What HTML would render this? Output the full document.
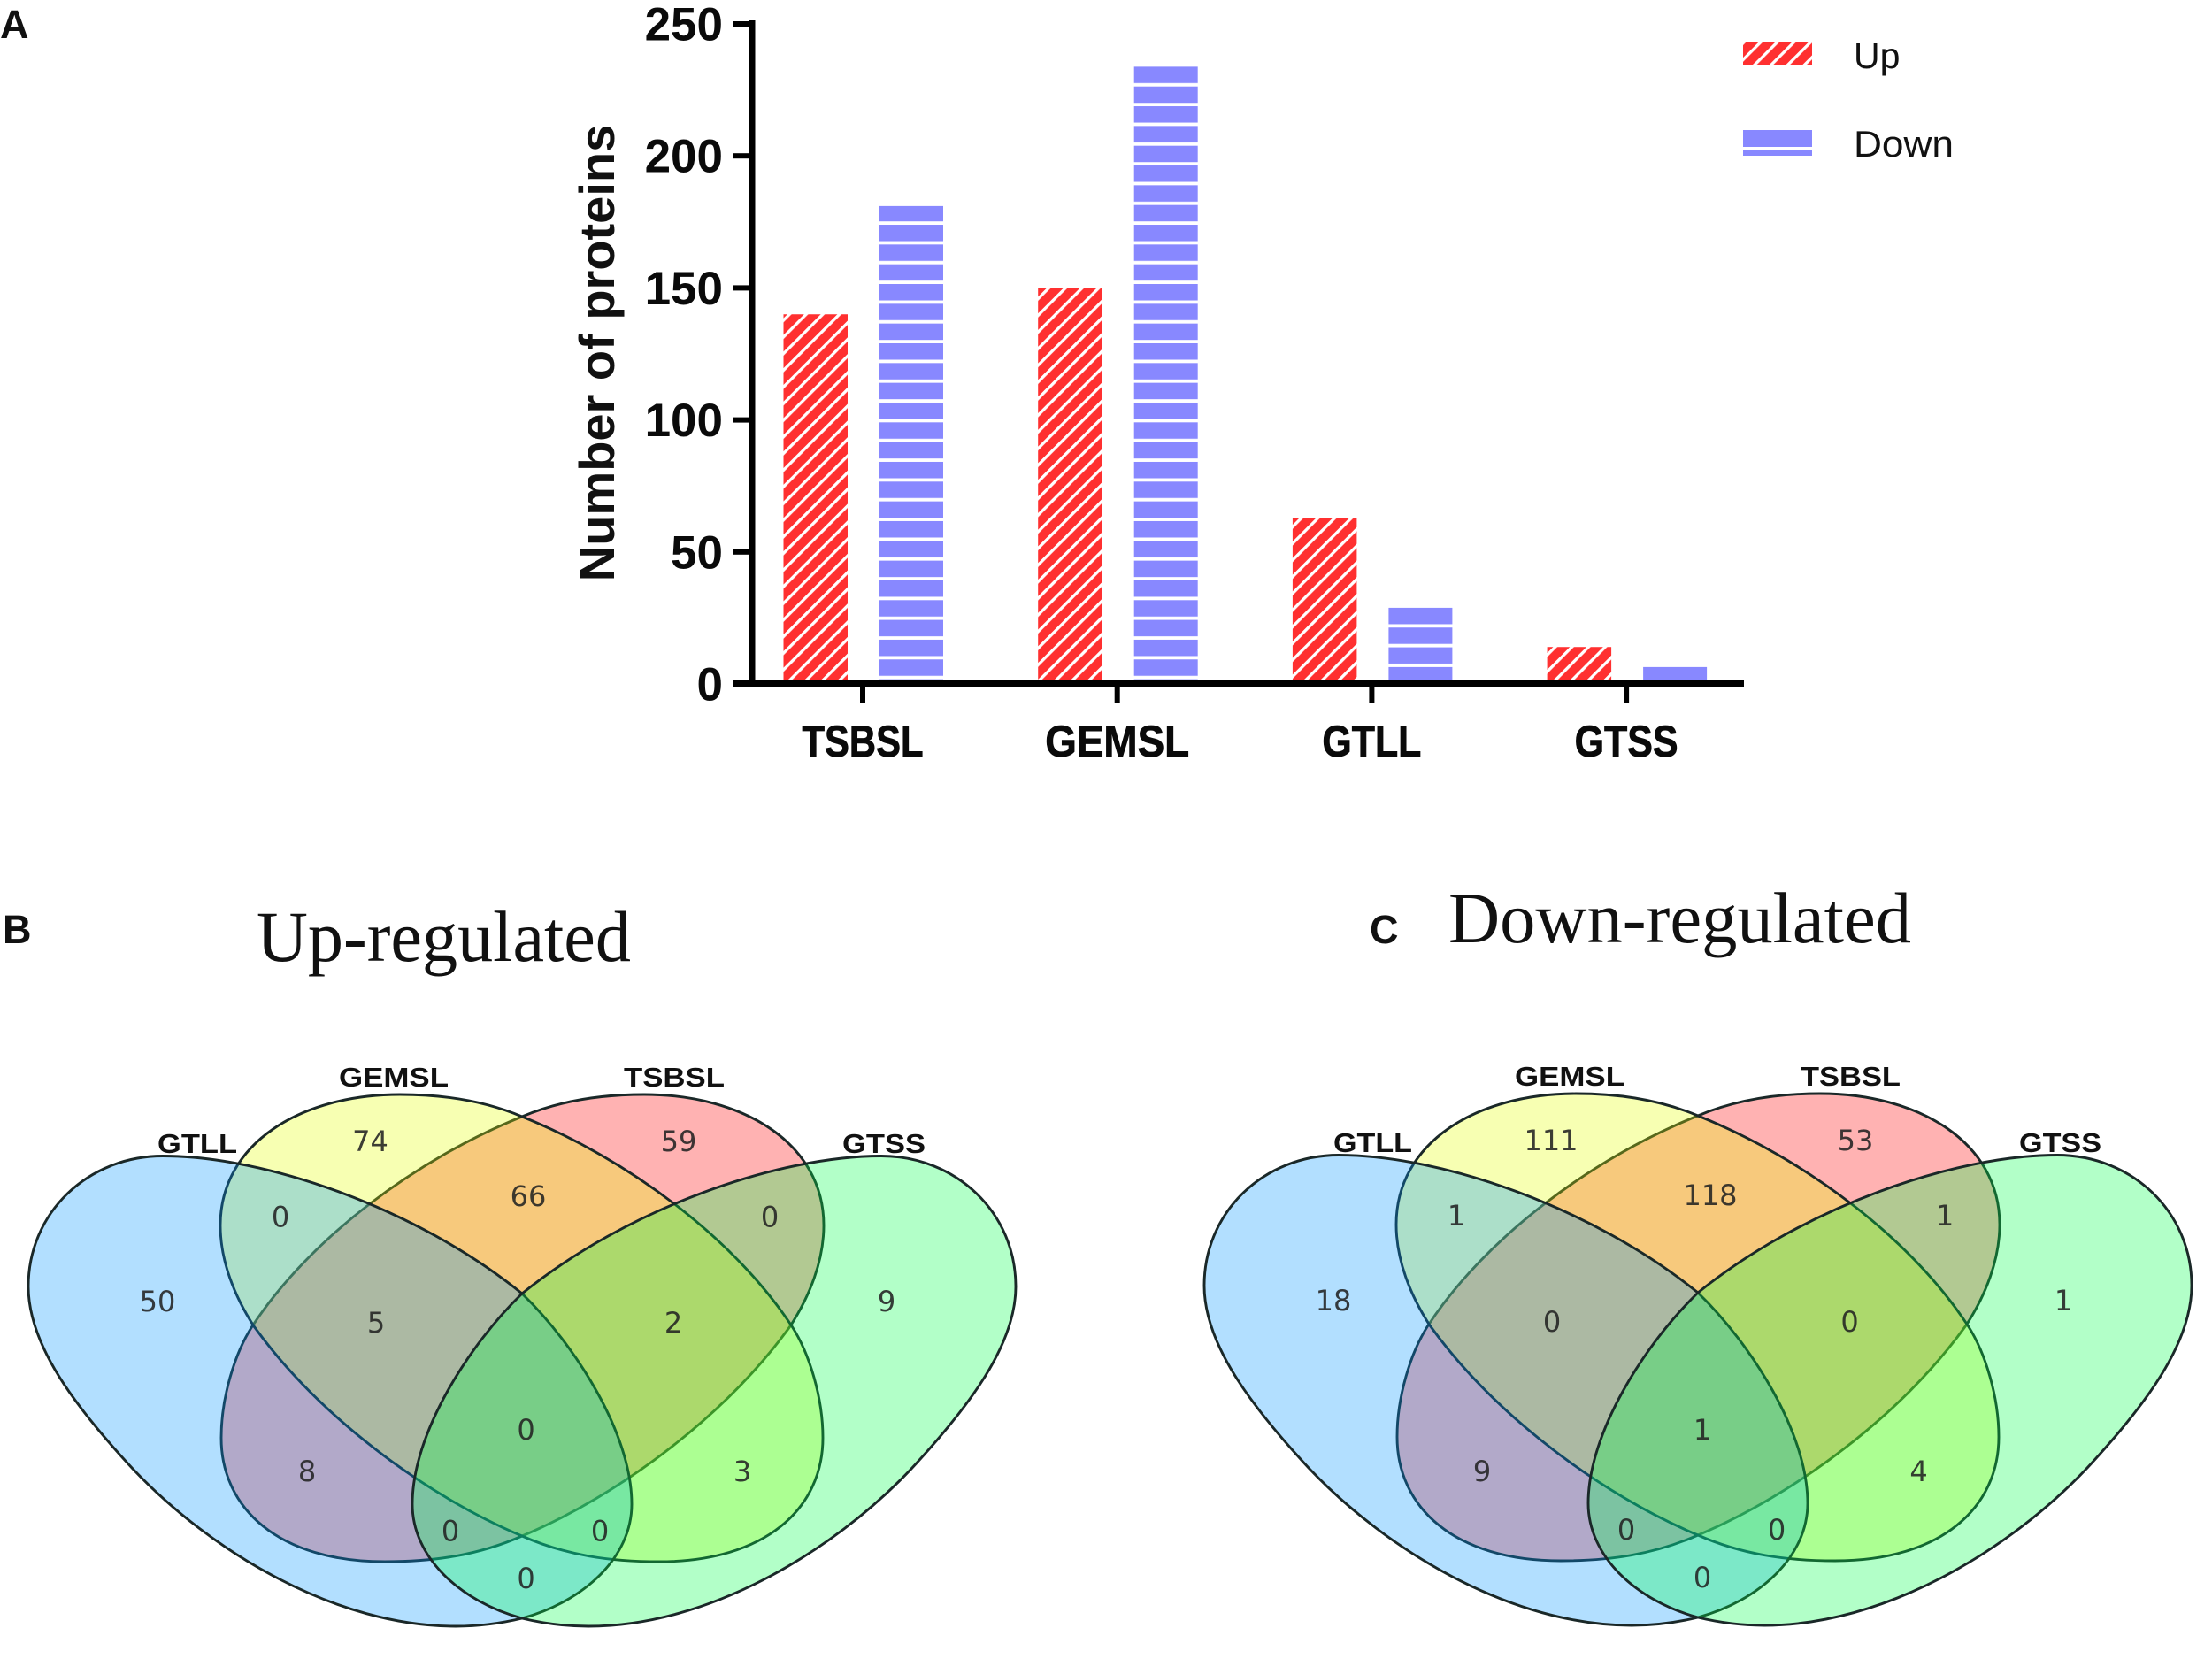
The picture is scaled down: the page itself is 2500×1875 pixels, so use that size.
<!DOCTYPE html>
<html lang="en">
<head>
<meta charset="utf-8">
<title>Differentially expressed proteins</title>
<style>
html,body{margin:0;padding:0;background:#fff;}
svg{display:block;}
.sans{font-family:"Liberation Sans",sans-serif;}
.num{font-family:"DejaVu Sans",sans-serif;font-size:32px;fill:#222;text-anchor:middle;dominant-baseline:central;fill-opacity:.88;}
.vlab{font-family:"Liberation Sans",sans-serif;font-size:31px;font-weight:bold;fill:#111;}
.title{font-family:"Liberation Serif",serif;font-size:82px;fill:#111;}
.panel{font-family:"Liberation Sans",sans-serif;font-size:45px;font-weight:bold;fill:#111;}
.edge{stroke:#1a2828;stroke-width:2.9;fill-opacity:.3;}
</style>
</head>
<body>
<svg id="fig" xmlns="http://www.w3.org/2000/svg" width="2500" height="1875" viewBox="0 0 2500 1875">
<defs>
<pattern id="hatchUp" patternUnits="userSpaceOnUse" width="13.3" height="13.3" patternTransform="translate(886 773) rotate(45)">
<rect width="13.3" height="13.3" fill="#ff3030"/>
<rect width="3.3" height="13.3" fill="#ffffff"/>
</pattern>
<pattern id="hatchDownA" patternUnits="userSpaceOnUse" width="100" height="22.33" patternTransform="translate(0 767.6)">
<rect width="100" height="22.33" fill="#8888ff"/>
<rect y="18.53" width="100" height="3.8" fill="#ffffff"/>
</pattern>
<pattern id="hatchDownB" patternUnits="userSpaceOnUse" width="100" height="22.33" patternTransform="translate(0 753.9)">
<rect width="100" height="22.33" fill="#8888ff"/>
<rect y="18.53" width="100" height="3.8" fill="#ffffff"/>
</pattern>
</defs>
<rect width="2500" height="1875" fill="#ffffff"/>

<text class="panel" x="0" y="43">A</text>
<text class="panel" x="3" y="1066">B</text>
<text class="panel" x="1548" y="1066">C</text>

<g id="barChart"></g>

<text class="sans" transform="translate(694 399) rotate(-90)" text-anchor="middle" font-size="56" font-weight="bold" fill="#111">Number of proteins</text>

<g>
<g>
<rect x="1970" y="48" width="78" height="26" fill="url(#hatchUp)"/>
<text class="sans" x="2095" y="77" font-size="41" fill="#111">Up</text>
</g>
<g>
<rect x="1970" y="147" width="78" height="19" fill="#8888ff"/>
<rect x="1970" y="170" width="78" height="6" fill="#8888ff"/>
<text class="sans" x="2095" y="177" font-size="42" fill="#111" textLength="113" lengthAdjust="spacingAndGlyphs">Down</text>
</g>
</g>

<text class="title" x="290" y="1086" textLength="423" lengthAdjust="spacingAndGlyphs">Up-regulated</text>
<text class="title" x="1637" y="1065" textLength="523" lengthAdjust="spacingAndGlyphs">Down-regulated</text>

<!-- Venn B -->
<g>
<g transform="translate(590 0)">
<path class="edge" fill="#ff0000" transform="scale(-1 1)" d="M-341 1385C-341 1292 -250 1237 -138 1237C-85 1237 -40 1245 0 1262C120 1310 240 1400 305 1499C325 1530 340 1580 340 1625C340 1705 275 1765 155 1765C100 1765 50 1758 0 1736C-110 1690 -230 1600 -303 1499C-325 1465 -341 1425 -341 1385Z"/>
<path class="edge" fill="#e6ff00" d="M-341 1385C-341 1292 -250 1237 -138 1237C-85 1237 -40 1245 0 1262C120 1310 240 1400 305 1499C325 1530 340 1580 340 1625C340 1705 275 1765 155 1765C100 1765 50 1758 0 1736C-110 1690 -230 1600 -303 1499C-325 1465 -341 1425 -341 1385Z"/>
<path class="edge" fill="#0096ff" d="M-558 1454C-558 1370 -490 1306.5 -406 1306.5C-290 1306.5 -120 1365 0 1462C60 1520 124 1620 124 1700C124 1760 70 1810 0 1829C-25 1835 -50 1838 -75 1838C-210 1838 -350 1755 -440 1660C-505 1590 -558 1520 -558 1454Z"/>
<path class="edge" fill="#00ff48" transform="scale(-1 1)" d="M-558 1454C-558 1370 -490 1306.5 -406 1306.5C-290 1306.5 -120 1365 0 1462C60 1520 124 1620 124 1700C124 1760 70 1810 0 1829C-25 1835 -50 1838 -75 1838C-210 1838 -350 1755 -440 1660C-505 1590 -558 1520 -558 1454Z"/>
</g>
<text class="num" x="178" y="1471">50</text>
<text class="num" x="418.5" y="1290">74</text>
<text class="num" x="767" y="1290">59</text>
<text class="num" x="317" y="1375.5">0</text>
<text class="num" x="597" y="1352">66</text>
<text class="num" x="870" y="1375.5">0</text>
<text class="num" x="1002" y="1471">9</text>
<text class="num" x="425" y="1495">5</text>
<text class="num" x="761" y="1495">2</text>
<text class="num" x="347" y="1663">8</text>
<text class="num" x="594.5" y="1616">0</text>
<text class="num" x="839" y="1663">3</text>
<text class="num" x="509" y="1730.6">0</text>
<text class="num" x="678" y="1730.6">0</text>
<text class="num" x="594.5" y="1784">0</text>
<text class="vlab" x="383" y="1228" textLength="124" lengthAdjust="spacingAndGlyphs">GEMSL</text>
<text class="vlab" x="705" y="1228" textLength="114" lengthAdjust="spacingAndGlyphs">TSBSL</text>
<text class="vlab" x="178" y="1303" textLength="90" lengthAdjust="spacingAndGlyphs">GTLL</text>
<text class="vlab" x="952" y="1303" textLength="94" lengthAdjust="spacingAndGlyphs">GTSS</text>
</g>

<!-- Venn C -->
<g>
<g transform="translate(1919 -1)">
<path class="edge" fill="#ff0000" transform="scale(-1 1)" d="M-341 1385C-341 1292 -250 1237 -138 1237C-85 1237 -40 1245 0 1262C120 1310 240 1400 305 1499C325 1530 340 1580 340 1625C340 1705 275 1765 155 1765C100 1765 50 1758 0 1736C-110 1690 -230 1600 -303 1499C-325 1465 -341 1425 -341 1385Z"/>
<path class="edge" fill="#e6ff00" d="M-341 1385C-341 1292 -250 1237 -138 1237C-85 1237 -40 1245 0 1262C120 1310 240 1400 305 1499C325 1530 340 1580 340 1625C340 1705 275 1765 155 1765C100 1765 50 1758 0 1736C-110 1690 -230 1600 -303 1499C-325 1465 -341 1425 -341 1385Z"/>
<path class="edge" fill="#0096ff" d="M-558 1454C-558 1370 -490 1306.5 -406 1306.5C-290 1306.5 -120 1365 0 1462C60 1520 124 1620 124 1700C124 1760 70 1810 0 1829C-25 1835 -50 1838 -75 1838C-210 1838 -350 1755 -440 1660C-505 1590 -558 1520 -558 1454Z"/>
<path class="edge" fill="#00ff48" transform="scale(-1 1)" d="M-558 1454C-558 1370 -490 1306.5 -406 1306.5C-290 1306.5 -120 1365 0 1462C60 1520 124 1620 124 1700C124 1760 70 1810 0 1829C-25 1835 -50 1838 -75 1838C-210 1838 -350 1755 -440 1660C-505 1590 -558 1520 -558 1454Z"/>
</g>
<text class="num" x="1507" y="1470">18</text>
<text class="num" x="1753" y="1289">111</text>
<text class="num" x="2097" y="1289">53</text>
<text class="num" x="1646" y="1374">1</text>
<text class="num" x="1933" y="1351">118</text>
<text class="num" x="2198" y="1374">1</text>
<text class="num" x="2332" y="1470">1</text>
<text class="num" x="1754" y="1494">0</text>
<text class="num" x="2090.5" y="1494">0</text>
<text class="num" x="1675" y="1663">9</text>
<text class="num" x="1924" y="1616">1</text>
<text class="num" x="2168.6" y="1663">4</text>
<text class="num" x="1838" y="1729">0</text>
<text class="num" x="2008" y="1729">0</text>
<text class="num" x="1924" y="1783">0</text>
<text class="vlab" x="1712" y="1227" textLength="124" lengthAdjust="spacingAndGlyphs">GEMSL</text>
<text class="vlab" x="2035" y="1227" textLength="113" lengthAdjust="spacingAndGlyphs">TSBSL</text>
<text class="vlab" x="1507" y="1302" textLength="89" lengthAdjust="spacingAndGlyphs">GTLL</text>
<text class="vlab" x="2282" y="1302" textLength="93" lengthAdjust="spacingAndGlyphs">GTSS</text>
</g>
</svg>

<script>
const categories = ['TSBSL', 'GEMSL', 'GTLL', 'GTSS'];
const upValues = [140, 150, 63, 14];
const downValues = [181, 234, 29, 7];
const yTickValues = [0, 50, 100, 150, 200, 250];

const NS = 'http://www.w3.org/2000/svg';
const chart = document.getElementById('barChart');
const plotLeft = 850, plotRight = 1971, barBase = 769.5, yTop = 27;
const yMaxValue = 250;
const tickYZero = 773;

function tickY(v) { return tickYZero - v * (tickYZero - yTop) / yMaxValue; }
function xCenter(i) { return 975 + i * 287.7; }
function categoryLabelWidth(name) {
  if (name === 'TSBSL') return 137;
  if (name === 'GEMSL') return 163;
  if (name === 'GTLL') return 112;
  return 117;
}

function add(tag, attrs, parent) {
  const el = document.createElementNS(NS, tag);
  for (const k in attrs) el.setAttribute(k, attrs[k]);
  (parent || chart).appendChild(el);
  return el;
}

categories.forEach(function (cat, i) {
  const cx = xCenter(i);
  const upTop = tickY(upValues[i]);
  const upBar = add('rect', { x: cx - 89.5, y: upTop, width: 72.5, height: barBase - upTop, fill: 'url(#hatchUp)' });
  
  
  const downTop = tickY(downValues[i]);
  const downBar = add('rect', { x: cx + 19, y: downTop, width: 72, height: barBase - downTop, fill: i < 2 ? 'url(#hatchDownA)' : 'url(#hatchDownB)' });
  
  
  const tick = add('rect', { x: cx - 3, y: 773, width: 6, height: 22, fill: '#000' });
  
  
  const label = add('text', {
    x: cx,
    y: 855,
    'text-anchor': 'middle',
    textLength: categoryLabelWidth(cat),
    lengthAdjust: 'spacingAndGlyphs',
    'font-family': '"Liberation Sans",sans-serif',
    'font-size': 50,
    'font-weight': 'bold',
    stroke: '#0a0a0a',
    'stroke-width': 0.8,
    fill: '#0a0a0a'
  });
  label.textContent = cat;
  
  
});

const yAxis = add('rect', { x: plotLeft - 3, y: yTop - 4, width: 6.5, height: tickYZero - yTop + 8, fill: '#000' });


const xAxis = add('rect', { x: 828, y: tickYZero - 4, width: plotRight - 828, height: 8, fill: '#000' });



yTickValues.forEach(function (v) {
  const y = tickY(v);
  const tick = add('rect', { x: 828, y: y - 3, width: 24, height: 6, fill: '#000' });
  
  
  const label = add('text', {
    x: 817,
    y: y + 18.5,
    'text-anchor': 'end',
    'font-family': '"Liberation Sans",sans-serif',
    'font-size': 53,
    'font-weight': 'bold',
    fill: '#0a0a0a'
  });
  label.textContent = String(v);
  
  
});
</script>
</body>
</html>
